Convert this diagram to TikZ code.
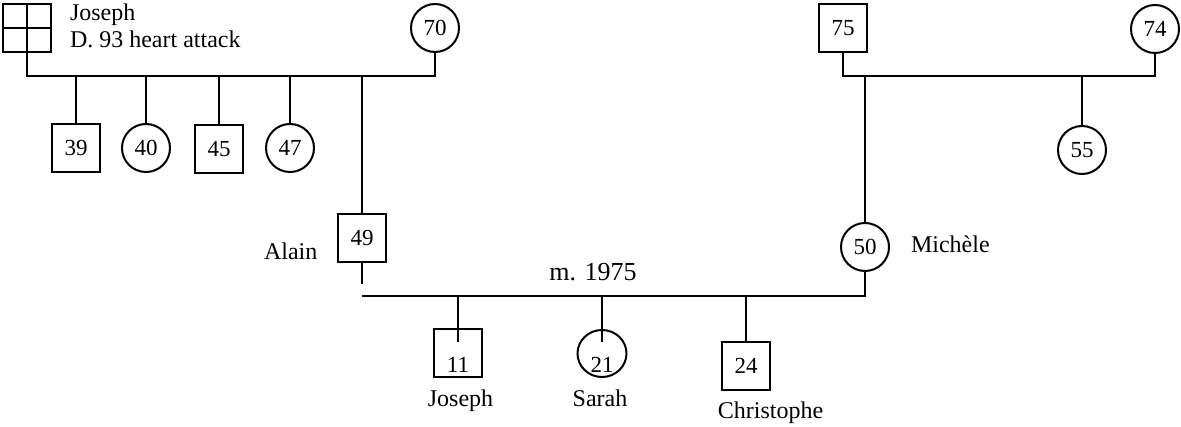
\documentclass[tikz,border=0pt]{standalone}
\usepackage{fontspec}
\setmainfont{Liberation Serif}
\usetikzlibrary{shapes.geometric}
\begin{document}
\begin{tikzpicture}[x=1pt,y=-1pt,line width=2pt,
  every node/.style={font=\fontsize{23}{27}\selectfont},
  male/.style={draw,rectangle,minimum width=48pt,minimum height=48pt,inner sep=0pt},
  female/.style={draw,circle,minimum size=48pt,inner sep=0pt},
  lbl/.style={inner sep=0pt,anchor=base west},
  lblc/.style={inner sep=0pt,anchor=base},
  nametext/.style={font=\fontsize{24}{28}\selectfont}]
\useasboundingbox (0,0) rectangle (1181,427);
% left grandparents
\node[male] (g1) at (27,28) {};
\draw (g1.north) -- (g1.south) (g1.west) -- (g1.east);
\node[lbl,nametext] (g1n) at (69,21) {Joseph};
\node[lbl,nametext] (g1d) at (69,48) {D. 93 heart attack};
\node[female] (g2) at (435,28) {70};
\coordinate (jL) at (27,76);
\coordinate (jR) at (435,76);
\draw (g1) -- (jL) -- (jR) -- (g2);
% their children
\node[male] (c39) at (76,148) {39};
\node[female] (c40) at (146,148) {40};
\node[male] (c45) at (219,149) {45};
\node[female] (c47) at (290,148) {47};
\foreach \c in {c39,c40,c45,c47} \draw (\c) -- (\c |- jL);
% Alain
\node[male] (a49) at (362,238) {49};
\node[lbl,nametext] (alain) at (263,260) {Alain};
\draw (a49) -- (a49 |- jL);
\coordinate (a49b) at (362,284);
\draw (a49) -- (a49b);
% right grandparents
\node[male] (g75) at (843,28) {75};
\node[female] (g74) at (1155,29) {74};
\coordinate (pL) at (843,76);
\coordinate (pR) at (1155,76);
\draw (g75) -- (pL) -- (pR) -- (g74);
\node[female] (c55) at (1082,150) {55};
\draw (c55) -- (c55 |- pL);
% Michele
\node[female] (m50) at (865,247) {50};
\node[lbl,nametext] (mich) at (910,253) {Michèle};
\draw (m50) -- (m50 |- pL);
% marriage
\coordinate (mL) at (362,296);
\coordinate (mR) at (865,296);
\draw (mL) -- (mR) -- (m50);
\node[lblc,font=\fontsize{26}{30}\selectfont] (marr) at (593,281) {m. 1975};
% grandchildren
\node[male] (k11) at (458,353) {};
\node[lblc] (k11n) at (458,372.5) {11};
\coordinate (k11in) at (458,342);
\draw (k11 |- mL) -- (k11in);
\node[draw,ellipse,inner sep=0pt,minimum width=49pt,minimum height=47pt] (k21) at (602,353.5) {};
\node[lblc] (k21n) at (602,372.5) {21};
\coordinate (k21in) at (602,342);
\draw (k21 |- mL) -- (k21in);
\node[male] (k24) at (746,366) {24};
\draw (k24) -- (k24 |- mL);
\node[lblc,nametext] (jos) at (460.5,406.5) {Joseph};
\node[lblc,nametext] (sar) at (600,406.5) {Sarah};
\node[lblc,nametext] (chr) at (770.5,419) {Christophe};
\end{tikzpicture}
\end{document}
